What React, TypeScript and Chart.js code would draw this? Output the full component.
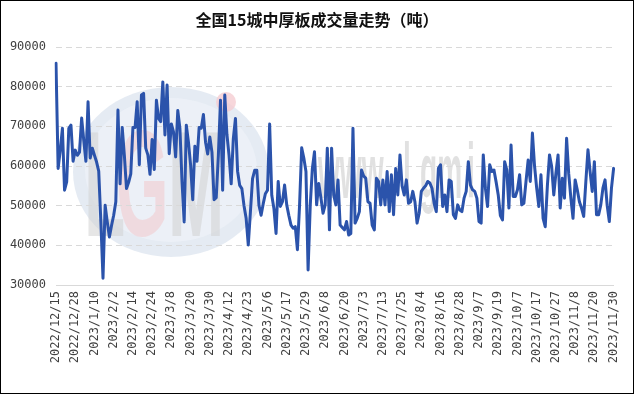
import React, { useEffect, useRef } from "react";
import { Chart, registerables } from "chart.js";

Chart.register(...registerables);

const TITLE = "全国15城中厚板成交量走势（吨）";

const tickLabels = [
  "2022/12/15", "2022/12/28", "2023/1/10", "2023/2/2", "2023/2/14", "2023/2/24",
  "2023/3/8", "2023/3/20", "2023/3/30", "2023/4/12", "2023/4/23", "2023/5/6",
  "2023/5/17", "2023/5/29", "2023/6/8", "2023/6/20", "2023/7/3", "2023/7/13",
  "2023/7/25", "2023/8/4", "2023/8/16", "2023/8/28", "2023/9/7", "2023/9/19",
  "2023/10/7", "2023/10/17", "2023/10/27", "2023/11/8", "2023/11/20", "2023/11/30",
];

const POINTS_PER_TICK = 9;

const volumes = [
  85900, 59400, 64000, 69500, 53900, 56000, 69500, 70300, 61200, 64000,
  62700, 63500, 72100, 66400, 61200, 76200, 62000, 64500, 62700, 61000,
  58700, 45900, 31700, 50100, 45900, 42100, 45000, 47600, 51000, 74100,
  55500, 69700, 62700, 54300, 55900, 58000, 69700, 69700, 76200, 60300,
  77900, 78300, 64500, 62800, 57900, 66700, 59100, 76600, 72000, 71200,
  81200, 67800, 80400, 63100, 70600, 68600, 62300, 74000, 69500, 55900,
  45900, 70300, 66000, 60300, 51500, 65000, 61200, 69700, 69500, 73000,
  66000, 63000, 67300, 63500, 51500, 52000, 62700, 76600, 53900, 77900,
  68000, 62700, 55500, 66900, 72000, 58700, 55100, 54300, 50000, 46800,
  40100, 48400, 56800, 58900, 58900, 50100, 47600, 50500, 53000, 53900,
  70600, 52600, 49300, 43000, 56100, 49800, 51000, 55200, 50200, 47500,
  45100, 44300, 44700, 38900, 50000, 64600, 62000, 58600, 33800, 50000,
  59400, 63600, 50200, 55600, 52000, 48100, 50200, 64500, 43900, 64500,
  52700, 50200, 56500, 45100, 44500, 43900, 46000, 42600, 43000, 69500,
  45600, 46800, 48500, 59000, 57500, 56900, 51000, 50600, 45100, 43900,
  56900, 56100, 50200, 56500, 50200, 58600, 48500, 57800, 47700, 59400,
  52700, 62800, 55000, 52700, 56500, 50600, 51000, 53600, 51000, 45600,
  48100, 53600, 54400, 55000, 56100, 55700, 54400, 50600, 48500, 59400,
  60300, 49800, 52700, 48500, 56500, 56100, 47700, 46800, 50200, 48900,
  48500, 51900, 53600, 61100, 55200, 54000, 53600, 51900, 46000, 45600,
  62800, 54400, 49800, 60300, 58600, 59000, 56000, 52700, 47500, 46400,
  61100, 59000, 49400, 65300, 52300, 52300, 54000, 57800, 50200, 50600,
  56100, 61500, 56100, 68300, 60000, 54400, 49800, 57800, 46800, 44700,
  55000, 62800, 59900, 52700, 58200, 62800, 49400, 56900, 51900, 67000,
  58000, 51900, 46800, 56500, 54000, 51000, 49400, 47300, 56000, 64100,
  58600, 53600, 61100, 47700, 47700, 50200, 54400, 56500, 50000, 46000,
  54400, 59400,
];

const Y_MIN = 30000;
const Y_MAX = 90000;
const Y_STEP = 10000;

const categories = volumes.map((_, i) =>
  i % POINTS_PER_TICK === 0 ? tickLabels[i / POINTS_PER_TICK] ?? "" : ""
);

const W = 634;
const H = 394;

const decorPlugin = {
  id: "decor",
  beforeDraw(chart: any) {
    const ctx = chart.ctx as CanvasRenderingContext2D;
    ctx.save();
    ctx.fillStyle = "#ffffff";
    ctx.fillRect(0, 0, W, H);
    // faint logo watermark
    ctx.beginPath();
    ctx.ellipse(171, 172, 98, 85, 0, 0, Math.PI * 2);
    ctx.fillStyle = "rgba(224,231,241,0.85)";
    ctx.fill();
    ctx.beginPath();
    ctx.ellipse(171, 170, 86, 72, 0, 0, Math.PI * 2);
    ctx.fillStyle = "rgba(236,241,247,0.9)";
    ctx.fill();
    ctx.font = 'bold 150px "Liberation Sans"';
    ctx.textBaseline = "alphabetic";
    const letter = (t: string, x: number, color: string) => {
      ctx.save();
      ctx.translate(x, 236);
      ctx.scale(0.45, 1);
      ctx.fillStyle = color;
      ctx.fillText(t, 0, 0);
      ctx.restore();
    };
    letter("L", 84, "rgba(210,210,210,0.55)");
    letter("G", 116, "rgba(242,200,204,0.55)");
    letter("M", 168, "rgba(210,210,210,0.55)");
    ctx.beginPath();
    ctx.arc(226, 102, 10, 0, Math.PI * 2);
    ctx.fillStyle = "rgba(245,205,210,0.8)";
    ctx.fill();
    // www.lgmi text watermark
    ctx.font = 'bold 78px "Liberation Sans"';
    const wtxt = (t: string, x: number) => {
      ctx.save();
      ctx.translate(x, 198);
      ctx.scale(0.36, 1);
      ctx.fillStyle = "rgba(205,205,205,0.6)";
      ctx.fillText(t, 0, 0);
      ctx.restore();
    };
    wtxt("www", 318);
    wtxt("l", 403);
    wtxt("gm", 420);
    wtxt("i", 467);
    ctx.restore();
  },
  afterDraw(chart: any) {
    const ctx = chart.ctx as CanvasRenderingContext2D;
    ctx.save();
    ctx.font = 'bold 16px "Noto Sans CJK SC"';
    ctx.fillStyle = "#111111";
    ctx.textAlign = "center";
    ctx.textBaseline = "middle";
    ctx.fillText(TITLE, 317, 20);
    ctx.strokeStyle = "#000000";
    ctx.lineWidth = 1;
    ctx.strokeRect(0.5, 0.5, W - 1, H - 1);
    ctx.restore();
  },
};

export default function App() {
  const canvasRef = useRef<HTMLCanvasElement | null>(null);

  useEffect(() => {
    const canvas = canvasRef.current;
    if (!canvas) return;
    const chart = new Chart(canvas, {
      type: "line",
      data: {
        labels: categories,
        datasets: [
          {
            data: volumes,
            borderColor: "#2b53ab",
            borderWidth: 3,
            pointRadius: 0,
            tension: 0,
            borderJoinStyle: "round",
            borderCapStyle: "round",
            fill: false,
          },
        ],
      },
      options: {
        responsive: false,
        animation: false,
        devicePixelRatio: 1,
        layout: { padding: { top: 47, right: 20, bottom: 0, left: 0 } },
        plugins: {
          legend: { display: false },
          title: { display: false },
          tooltip: { enabled: false },
        },
        scales: {
          x: {
            type: "category",
            grid: { display: false, drawTicks: false },
            border: { display: true, color: "#d9d9d9", width: 1 },
            ticks: {
              autoSkip: false,
              maxRotation: 90,
              minRotation: 90,
              padding: 6,
              color: "#404040",
              font: { family: "DejaVu Sans Mono", size: 12 },
            },
            afterFit: (s: any) => {
              s.height = 109;
            },
          },
          y: {
            min: Y_MIN,
            max: Y_MAX,
            ticks: {
              stepSize: Y_STEP,
              padding: 10,
              color: "#404040",
              font: { family: "DejaVu Sans Mono", size: 12 },
              callback: (v: any) => String(v),
            },
            grid: { color: "#d9d9d9", drawTicks: false, lineWidth: 1 },
            border: { display: false, dash: [6, 4] },
            afterFit: (s: any) => {
              s.width = 56;
            },
          },
        },
      },
      plugins: [decorPlugin],
    } as any);
    return () => chart.destroy();
  }, []);

  return (
    <div
      style={{
        position: "fixed",
        left: 0,
        top: 0,
        width: W,
        height: H,
        background: "#fff",
      }}
    >
      <canvas
        ref={canvasRef}
        width={W}
        height={H}
        style={{ display: "block", width: W, height: H }}
      />
    </div>
  );
}
